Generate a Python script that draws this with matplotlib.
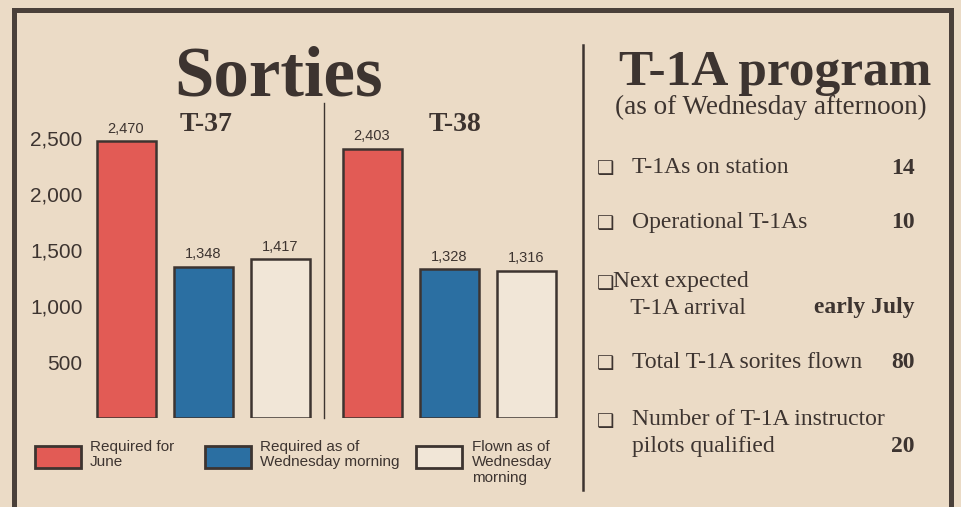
import matplotlib.pyplot as plt
from matplotlib.patches import Rectangle
from matplotlib.lines import Line2D

# Dati del grafico
aircraft = ['T-37', 'T-38']
series_labels = ['Required for\nJune', 'Required as of\nWednesday morning', 'Flown as of\nWednesday\nmorning']
t37_values = [2470, 1348, 1417]
t38_values = [2403, 1328, 1316]
y_ticks = [500, 1000, 1500, 2000, 2500]

program_items = ['T-1As on station', 'Operational T-1As', 'Next expected\n   T-1A arrival',
                 'Total T-1A sorites flown', 'Number of T-1A instructor\npilots qualified']
program_values = ['14', '10', 'early July', '80', '20']

# Colori
paper = '#ebdbc6'
ink = '#3d3430'
red = '#e25b55'
blue = '#2b6fa2'
white_bar = '#f1e6d7'

W, H = 961, 507


def px(x, y):
    # pixel -> frazione della figura
    return x / W, 1 - y / H


fig = plt.figure(figsize=(W / 100, H / 100), dpi=100, facecolor=paper)

# Cornice esterna
fx = [14, 14, 951, 951]
fy = [520, 10, 10, 520]
frame = Line2D([x / W for x in fx], [1 - y / H for y in fy], color='#4a403a', linewidth=3.6,
               transform=fig.transFigure, solid_joinstyle='miter')
fig.add_artist(frame)

# Divisore verticale a destra
div = Line2D([px(583, 0)[0]] * 2, [px(0, 45)[1], px(0, 490)[1]], color=ink, linewidth=1.8,
             transform=fig.transFigure)
fig.add_artist(div)

# Area del grafico a barre
ax_left, ax_right, ax_top, ax_bottom = 88, 583, 100, 418
ax = fig.add_axes([ax_left / W, (H - ax_bottom) / H, (ax_right - ax_left) / W, (ax_bottom - ax_top) / H])
ax.set_facecolor('none')

unit = 77
x0 = 126
ax.set_xlim((ax_left - x0) / unit, (ax_right - x0) / unit)
ax.set_ylim(0, (ax_bottom - ax_top) / 0.112)

group2 = (372 - x0) / unit
pos1 = [0, 1, 2]
pos2 = [group2 + i for i in range(3)]
colors = [red, blue, white_bar]
bw = 59 / unit

for pos, vals in [(pos1, t37_values), (pos2, t38_values)]:
    ax.bar(pos, vals, width=bw, color=colors, edgecolor=ink, linewidth=1.8, zorder=3)
    for p, v in zip(pos, vals):
        ax.text(p, v + 50, f'{v:,}', ha='center', va='bottom', fontsize=10.5,
                family='Liberation Sans', color=ink)

# Linea tra T-37 e T-38
ax.axvline((324 - x0) / unit, ymin=0, ymax=(ax_bottom - 103) / (ax_bottom - ax_top),
           color=ink, linewidth=1.0, clip_on=False)

ax.set_yticks(y_ticks)
ax.set_yticklabels([f'{t:,}' for t in y_ticks], fontsize=15, family='Liberation Sans', color=ink)
ax.tick_params(axis='y', length=0, pad=4)
ax.set_xticks([])
for s in ax.spines.values():
    s.set_visible(False)

# Titoli del grafico
fig.text(*px(279, 95), 'Sorties', ha='center', va='baseline', fontsize=51,
         family='Liberation Serif', fontweight='bold', color=ink)
fig.text(*px(206, 131), aircraft[0], ha='center', va='baseline', fontsize=20,
         family='Liberation Serif', fontweight='bold', color=ink)
fig.text(*px(455, 131), aircraft[1], ha='center', va='baseline', fontsize=20,
         family='Liberation Serif', fontweight='bold', color=ink)

# Legenda
legend_boxes = [(35, 90), (205, 260), (416, 472)]
for (bx, tx), c, lab in zip(legend_boxes, colors, series_labels):
    x, y = px(bx, 468)
    fig.add_artist(Rectangle((x, y), 46 / W, 22 / H, transform=fig.transFigure,
                             facecolor=c, edgecolor=ink, linewidth=2.0))
    fig.text(*px(tx, 440), lab, ha='left', va='top', fontsize=11,
             family='Liberation Sans', color=ink, linespacing=1.12)

# Pannello T-1A
fig.text(*px(775, 85), 'T-1A program', ha='center', va='baseline', fontsize=37,
         family='Liberation Serif', fontweight='bold', color=ink)
fig.text(*px(771, 107), '(as of Wednesday afternoon)', ha='center', va='center', fontsize=19.5,
         family='Liberation Serif', color=ink)

item_y = [168, 223, 282, 363, 420]
item_x = [632, 632, 613, 632, 632]
value_y = [168, 223, 308, 363, 447]
for y, x, label, vy, val in zip(item_y, item_x, program_items, value_y, program_values):
    fig.text(*px(606, y + 1), '\u2751', ha='center', va='center', fontsize=14,
             family='DejaVu Sans', color=ink)
    fig.text(*px(x, y - 11), label, ha='left', va='top', fontsize=17,
             family='Liberation Serif', color=ink, linespacing=1.4)
    fig.text(*px(915, vy), val, ha='right', va='center', fontsize=17,
             family='Liberation Serif', fontweight='bold', color=ink)

fig.savefig('out.png', dpi=100, facecolor=paper)
